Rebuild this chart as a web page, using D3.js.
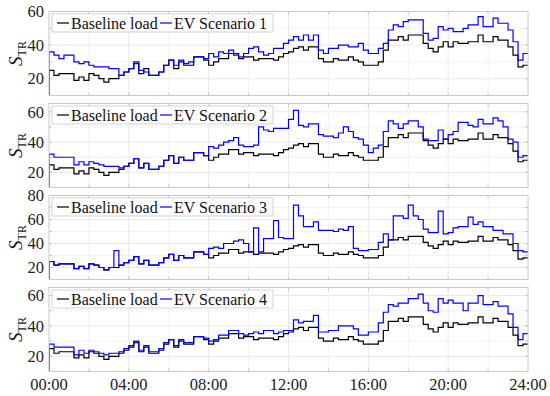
<!DOCTYPE html>
<html>
<head>
<meta charset="utf-8">
<title>Transformer loading</title>
<script src="https://cdn.jsdelivr.net/npm/d3@7"></script>
<style>
  body { margin: 0; background: #fff; }
  svg { display: block; font-family: "Liberation Serif", "DejaVu Serif", serif; }
</style>
</head>
<body>
<div id="chart"></div>
<script>
// 15-minute values, 96 per day
var baseline = [
  25,22,23,23,23,19,21,19,23,22,20,18,20,20,22,24,
  26,29,23,26,22,22,24,28,31,26,30,28,28,33,33,31,
  28,30,32,32,35,35,32,33,33,31,32,32,32,31,33,35,
  36,38,39,37,39,39,32,30,30,32,31,31,33,31,30,28,
  28,28,30,37,43,43,45,43,46,46,46,41,38,36,39,42,
  39,42,41,41,42,42,46,42,42,45,43,43,39,34,27,28];
var ev1 = [
  36,34,32,34,34,30,29,30,28,27,27,27,26,26,22,24,
  26,30,25,24,22,22,24,28,31,28,31,29,30,33,33,32,
  35,33,36,35,37,34,33,35,38,39,36,34,35,38,38,41,
  43,45,43,46,43,46,37,35,38,38,40,40,39,39,41,37,
  35,35,38,41,49,52,51,54,55,55,55,47,43,44,51,49,
  50,48,48,50,52,52,57,51,51,56,53,53,49,42,31,35];
var ev2 = [
  32,30,30,30,30,25,27,25,27,26,25,24,24,24,23,24,
  26,29,23,26,22,22,24,28,31,26,30,28,28,33,33,31,
  37,36,38,40,41,43,38,37,37,38,50,48,47,49,49,49,
  55,61,51,50,52,52,45,44,44,43,46,50,47,43,42,38,
  33,36,38,47,54,52,49,52,54,54,50,42,41,41,48,42,
  45,47,53,53,51,50,55,52,52,56,54,50,42,40,30,31];
var ev3 = [
  25,22,23,23,23,19,21,19,23,22,20,18,20,34,22,24,
  26,29,23,26,22,22,24,28,31,26,30,28,28,33,33,31,
  36,37,36,40,40,42,43,40,33,53,33,44,44,59,45,44,
  44,72,63,54,54,58,51,51,51,50,52,51,54,36,34,34,
  35,35,41,48,43,63,63,61,72,63,60,52,49,49,67,48,
  49,53,54,54,62,56,58,54,54,51,51,48,48,40,34,33];
var ev4 = [
  28,26,26,26,26,21,24,22,24,23,22,21,22,22,23,25,
  27,30,24,27,23,23,25,29,31,27,31,29,29,33,33,32,
  30,31,34,34,37,37,35,34,35,36,35,37,37,35,36,37,
  37,44,42,43,43,47,36,36,37,37,40,40,40,38,34,34,
  36,36,42,49,54,53,55,55,58,58,61,55,50,49,58,55,
  57,55,55,50,55,55,60,54,54,56,53,53,48,39,31,35];

var scenarios = [ev1, ev2, ev3, ev4];
var scenarioNames = ["EV Scenario 1", "EV Scenario 2", "EV Scenario 3", "EV Scenario 4"];
var baselineName = "Baseline load";
var startValue = 0;          // load before 00:00
var stepHours = 0.25;
var yMin = [10, 10, 10, 10];
var yMax = [60, 65.5, 80, 65.3];
var xTickLabels = ["00:00", "04:00", "08:00", "12:00", "16:00", "20:00", "24:00"];

var W = 550, H = 396;
var left = 49, right = 528;
var panelTop = 11.5, panelH = 84, panelGap = 92;

var svg = d3.select("#chart").append("svg")
  .attr("width", W).attr("height", H);

var x = d3.scaleLinear().domain([0, 24]).range([left, right]);

function toPoints(vals) {
  var pts = [{t: 0, v: startValue}];
  vals.forEach(function(v, i) { pts.push({t: i * stepHours, v: v}); });
  pts.push({t: 24, v: vals[vals.length - 1]});
  return pts;
}

scenarios.forEach(function(ev, p) {
  var top = panelTop + p * panelGap;
  var y = d3.scaleLinear().domain([yMin[p], yMax[p]]).range([top + panelH, top]);
  var g = svg.append("g");

  g.append("clipPath").attr("id", "clip" + p)
    .append("rect").attr("x", left).attr("y", top)
    .attr("width", right - left).attr("height", panelH);

  // grid
  var yGrid = d3.range(20, yMax[p], 10);
  g.selectAll(".hg").data(yGrid).enter().append("line")
    .attr("x1", left).attr("x2", right)
    .attr("y1", function(d) { return y(d); }).attr("y2", function(d) { return y(d); })
    .attr("stroke", function(d) { return d % 20 === 0 ? "#e3e3e3" : "#efefef"; })
    .attr("stroke-width", 0.8);
  g.selectAll(".vg").data(d3.range(2, 24, 2)).enter().append("line")
    .attr("y1", top).attr("y2", top + panelH)
    .attr("x1", function(d) { return x(d); }).attr("x2", function(d) { return x(d); })
    .attr("stroke", function(d) { return d % 4 === 0 ? "#e3e3e3" : "#efefef"; })
    .attr("stroke-width", 0.8);

  // inner ticks
  var tk = g.append("g").attr("stroke", "#bdbdbd").attr("stroke-width", 0.8);
  yGrid.forEach(function(d) {
    tk.append("line").attr("x1", left).attr("x2", left + 3).attr("y1", y(d)).attr("y2", y(d));
    tk.append("line").attr("x1", right - 3).attr("x2", right).attr("y1", y(d)).attr("y2", y(d));
  });
  d3.range(2, 24, 2).forEach(function(d) {
    tk.append("line").attr("x1", x(d)).attr("x2", x(d)).attr("y1", top).attr("y2", top + 3);
    tk.append("line").attr("x1", x(d)).attr("x2", x(d)).attr("y1", top + panelH - 3).attr("y2", top + panelH);
  });

  var line = d3.line()
    .x(function(d) { return x(d.t); })
    .y(function(d) { return y(d.v); })
    .curve(d3.curveStepAfter);

  var plot = g.append("g").attr("clip-path", "url(#clip" + p + ")");
  plot.append("path").datum(toPoints(baseline))
    .attr("d", line).attr("fill", "none")
    .attr("stroke", "#000").attr("stroke-width", 1.2);
  plot.append("path").datum(toPoints(ev))
    .attr("d", line).attr("fill", "none")
    .attr("stroke", "#0000ff").attr("stroke-width", 1.2);

  // frame
  g.append("rect").attr("x", left).attr("y", top)
    .attr("width", right - left).attr("height", panelH)
    .attr("fill", "none").attr("stroke", "#c8c8c8").attr("stroke-width", 1);

  // y tick labels
  g.selectAll(".yl").data(d3.range(20, yMax[p] + 0.1, 20)).enter().append("text")
    .attr("x", left - 5).attr("y", function(d) { return y(d); })
    .attr("dy", "0.35em").attr("text-anchor", "end")
    .attr("font-size", 16.5).attr("fill", "#222")
    .text(function(d) { return d; });

  // y label
  var yl = g.append("text")
    .attr("transform", "translate(22," + (top + panelH / 2) + ") rotate(-90)")
    .attr("text-anchor", "middle").attr("fill", "#222");
  yl.append("tspan").attr("font-style", "italic").attr("font-size", 19).text("S");
  yl.append("tspan").attr("font-size", 12).attr("dy", 4).text("TR");

  // legend
  var lg = g.append("g").attr("transform", "translate(" + (left + 3) + "," + (top + 2.5) + ")");
  lg.append("rect").attr("width", 221).attr("height", 18)
    .attr("fill", "#fff").attr("stroke", "#c8c8c8").attr("stroke-width", 0.8);
  lg.append("line").attr("x1", 5).attr("x2", 17).attr("y1", 9).attr("y2", 9)
    .attr("stroke", "#000").attr("stroke-width", 1.2);
  lg.append("text").attr("x", 19).attr("y", 14.5).attr("font-size", 16)
    .attr("fill", "#111").text(baselineName);
  lg.append("line").attr("x1", 108).attr("x2", 120).attr("y1", 9).attr("y2", 9)
    .attr("stroke", "#0000ff").attr("stroke-width", 1.2);
  lg.append("text").attr("x", 122).attr("y", 14.5).attr("font-size", 16)
    .attr("fill", "#111").text(scenarioNames[p]);

  // x tick labels on last panel
  if (p === scenarios.length - 1) {
    g.selectAll(".xl").data(xTickLabels).enter().append("text")
      .attr("x", function(d, i) { return x(i * 4); })
      .attr("y", top + panelH + 18).attr("text-anchor", "middle")
      .attr("font-size", 16.5).attr("fill", "#222")
      .text(function(d) { return d; });
  }
});
</script>
</body>
</html>
